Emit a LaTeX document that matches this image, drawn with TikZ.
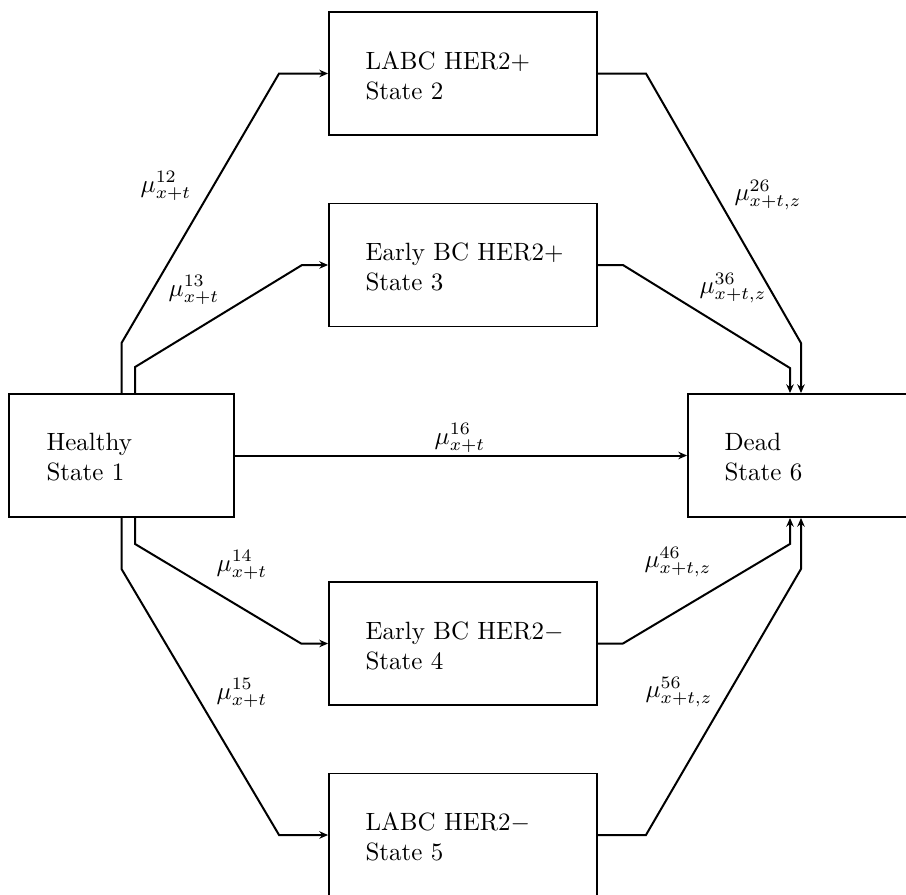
\documentclass[tikz,border=0pt]{standalone}
\usetikzlibrary{calc,arrows.meta}
\begin{document}
\begin{tikzpicture}[x=0.4pt,y=-0.4pt,
  box/.style={draw, line width=0.75pt, inner sep=0pt, minimum width=107.2pt, minimum height=49.2pt},
  txt/.style={anchor=west, align=left, inner sep=0pt},
  arr/.style={-{Stealth[length=3.5pt,width=3pt]}, line width=0.8pt},
  lab/.style={inner sep=0pt}]
\clip (0,0) rectangle (906,894);
\useasboundingbox (0,0) rectangle (906,894);

% boxes
\node[box] (s2) at (463,73.5) {};
\node[box] (s3) at (463,265) {};
\node[box, minimum width=90pt] (s1) at (121.5,455.5) {};
\node[box, minimum width=92pt] (s6) at (803,455.5) {};
\node[box] (s4) at (463,643.5) {};
\node[box] (s5) at (463,835) {};

% texts
\node[txt] (t1) at ($(s1.west)+(38,2)$) {Healthy\\State 1};
\node[txt] (t2) at ($(s2.west)+(37,2)$) {LABC HER2$+$\\State 2};
\node[txt] (t3) at ($(s3.west)+(37,2)$) {Early BC HER2$+$\\State 3};
\node[txt] (t4) at ($(s4.west)+(37,2)$) {Early BC HER2$-$\\State 4};
\node[txt] (t5) at ($(s5.west)+(37,2)$) {LABC HER2$-$\\State 5};
\node[txt] (t6) at ($(s6.west)+(37,2)$) {Dead\\State 6};

% connectors
\draw[arr] (s1.north) -- ++(0,-50) -- ($(s2.west)+(-49,0)$) -- (s2.west);
\draw[arr] ($(s1.north)+(13.5,0)$) -- ++(0,-26) -- ($(s3.west)+(-26,0)$) -- (s3.west);
\draw[arr] (s1.east) -- (s6.west);
\draw[arr] ($(s1.south)+(13.5,0)$) -- ++(0,26) -- ($(s4.west)+(-27,0)$) -- (s4.west);
\draw[arr] (s1.south) -- ++(0,51) -- ($(s5.west)+(-49,0)$) -- (s5.west);
\draw[arr] (s2.east) -- ++(48,0) -- ($(s6.north)+(-2,-50)$) -- ($(s6.north)+(-2,0)$);
\draw[arr] (s3.east) -- ++(25,0) -- ($(s6.north)+(-13,-25)$) -- ($(s6.north)+(-13,0)$);
\draw[arr] (s4.east) -- ++(25,0) -- ($(s6.south)+(-13,26)$) -- ($(s6.south)+(-13,0)$);
\draw[arr] (s5.east) -- ++(48,0) -- ($(s6.south)+(-2,51)$) -- ($(s6.south)+(-2,0)$);

% labels
\node[lab] (l12) at (166,186) {$\mu^{12}_{x+t}$};
\node[lab] (l13) at (194,290) {$\mu^{13}_{x+t}$};
\node[lab] (l16) at (460,438) {$\mu^{16}_{x+t}$};
\node[lab] (l26) at (768,195) {$\mu^{26}_{x+t,z}$};
\node[lab] (l36) at (733,288) {$\mu^{36}_{x+t,z}$};
\node[lab] (l14) at (242,565) {$\mu^{14}_{x+t}$};
\node[lab] (l46) at (678,562) {$\mu^{46}_{x+t,z}$};
\node[lab] (l15) at (242,693) {$\mu^{15}_{x+t}$};
\node[lab] (l56) at (679,692) {$\mu^{56}_{x+t,z}$};
\end{tikzpicture}
\end{document}
